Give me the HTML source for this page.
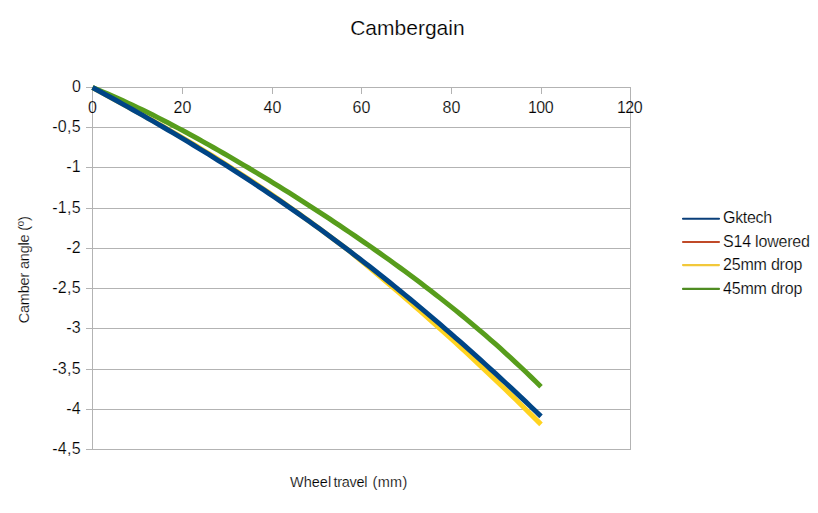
<!DOCTYPE html>
<html><head><meta charset="utf-8"><style>
html,body{margin:0;padding:0;background:#fff;}
svg{display:block;}
text{font-family:"Liberation Sans",sans-serif;fill:#000;stroke:#fff;stroke-width:0.2px;}
</style></head><body>
<svg width="818" height="513" viewBox="0 0 818 513">
<rect width="818" height="513" fill="#fff"/>
<text x="407.4" y="34.6" text-anchor="middle" font-size="21">Cambergain</text>
<g stroke="#b3b3b3" stroke-width="1" shape-rendering="crispEdges"><line x1="86" y1="87.5" x2="631" y2="87.5"/><line x1="86" y1="127.5" x2="631" y2="127.5"/><line x1="86" y1="167.5" x2="631" y2="167.5"/><line x1="86" y1="208.5" x2="631" y2="208.5"/><line x1="86" y1="248.5" x2="631" y2="248.5"/><line x1="86" y1="288.5" x2="631" y2="288.5"/><line x1="86" y1="328.5" x2="631" y2="328.5"/><line x1="86" y1="369.5" x2="631" y2="369.5"/><line x1="86" y1="409.5" x2="631" y2="409.5"/><line x1="86" y1="449.5" x2="631" y2="449.5"/><line x1="182.5" y1="87" x2="182.5" y2="94"/><line x1="272.5" y1="87" x2="272.5" y2="94"/><line x1="361.5" y1="87" x2="361.5" y2="94"/><line x1="451.5" y1="87" x2="451.5" y2="94"/><line x1="541.5" y1="87" x2="541.5" y2="94"/><line x1="92.5" y1="87" x2="92.5" y2="450"/><line x1="630.5" y1="87" x2="630.5" y2="450"/></g>
<g font-size="16"><text x="81" y="92.4" text-anchor="end" letter-spacing="0">0</text><text x="81" y="132.4" text-anchor="end" letter-spacing="0.3">-0,5</text><text x="81" y="172.4" text-anchor="end" letter-spacing="0.3">-1</text><text x="81" y="213.4" text-anchor="end" letter-spacing="0.3">-1,5</text><text x="81" y="253.4" text-anchor="end" letter-spacing="0.3">-2</text><text x="81" y="293.4" text-anchor="end" letter-spacing="0.3">-2,5</text><text x="81" y="333.4" text-anchor="end" letter-spacing="0.3">-3</text><text x="81" y="374.4" text-anchor="end" letter-spacing="0.3">-3,5</text><text x="81" y="414.4" text-anchor="end" letter-spacing="0.3">-4</text><text x="81" y="454.4" text-anchor="end" letter-spacing="0.3">-4,5</text><text x="92.5" y="112.8" text-anchor="middle" letter-spacing="0">0</text><text x="182.5" y="112.8" text-anchor="middle" letter-spacing="0">20</text><text x="272.5" y="112.8" text-anchor="middle" letter-spacing="0">40</text><text x="361.5" y="112.8" text-anchor="middle" letter-spacing="0">60</text><text x="451.5" y="112.8" text-anchor="middle" letter-spacing="0">80</text><text x="540.5" y="112.8" text-anchor="middle" letter-spacing="-0.5">100</text><text x="629.5" y="112.8" text-anchor="middle" letter-spacing="-0.5">120</text></g>
<g fill="none" stroke-width="5" stroke-linejoin="round" stroke-linecap="butt">
<path d="M92.50,87.50 L97.54,90.23 L102.58,92.96 L107.62,95.70 L112.66,98.45 L117.70,101.20 L122.74,103.97 L127.78,106.74 L132.81,109.52 L137.85,112.32 L142.89,115.12 L147.93,117.95 L152.97,120.78 L158.01,123.64 L163.05,126.51 L168.09,129.40 L173.13,132.31 L178.17,135.25 L183.21,138.20 L188.25,141.19 L193.29,144.19 L198.33,147.22 L203.37,150.28 L208.40,153.37 L213.44,156.48 L218.48,159.62 L223.52,162.80 L228.56,166.00 L233.60,169.23 L238.64,172.49 L243.68,175.78 L248.72,179.10 L253.76,182.45 L258.80,185.83 L263.84,189.24 L268.88,192.67 L273.92,196.14 L278.96,199.63 L283.99,203.15 L289.03,206.69 L294.07,210.26 L299.11,213.86 L304.15,217.48 L309.19,221.12 L314.23,224.78 L319.27,228.47 L324.31,232.18 L329.35,235.91 L334.39,239.70 L339.43,243.45 L344.47,247.24 L349.51,251.05 L354.54,255.29 L359.58,259.49 L364.62,263.68 L369.66,267.87 L374.70,272.08 L379.74,276.31 L384.78,280.56 L389.82,284.83 L394.86,289.12 L399.90,293.43 L404.94,297.77 L409.98,302.13 L415.02,306.52 L420.06,310.93 L425.10,315.37 L430.13,319.83 L435.17,324.32 L440.21,328.83 L445.25,333.37 L450.29,337.93 L455.33,342.52 L460.37,347.13 L465.41,351.77 L470.45,356.44 L475.49,361.13 L480.53,365.85 L485.57,370.59 L490.61,375.35 L495.65,380.15 L500.69,384.96 L505.72,389.81 L510.76,394.67 L515.80,399.57 L520.84,404.48 L525.88,409.42 L530.92,414.39 L535.96,419.37 L541.00,424.39" stroke="#ffd320"/>
<path d="M92.50,87.50 L97.54,89.57 L102.58,91.69 L107.62,93.85 L112.66,96.05 L117.70,98.30 L122.74,100.58 L127.78,102.91 L132.81,105.28 L137.85,107.68 L142.89,110.12 L147.93,112.59 L152.97,115.10 L158.01,117.64 L163.05,120.21 L168.09,122.81 L173.13,125.45 L178.17,128.11 L183.21,130.80 L188.25,133.52 L193.29,136.26 L198.33,139.03 L203.37,141.82 L208.40,144.64 L213.44,147.49 L218.48,150.36 L223.52,153.25 L228.56,156.16 L233.60,159.09 L238.64,162.05 L243.68,165.03 L248.72,168.02 L253.76,171.04 L258.80,174.08 L263.84,177.14 L268.88,180.22 L273.92,183.32 L278.96,186.44 L283.99,189.58 L289.03,192.73 L294.07,195.91 L299.11,199.11 L304.15,202.33 L309.19,205.56 L314.23,208.82 L319.27,212.10 L324.31,215.40 L329.35,218.71 L334.39,222.06 L339.43,225.42 L344.47,228.80 L349.51,232.21 L354.54,235.64 L359.58,239.09 L364.62,242.57 L369.66,246.07 L374.70,249.60 L379.74,253.15 L384.78,256.73 L389.82,260.34 L394.86,263.97 L399.90,267.64 L404.94,271.33 L409.98,275.06 L415.02,278.82 L420.06,282.61 L425.10,286.44 L430.13,290.30 L435.17,294.19 L440.21,298.13 L445.25,302.10 L450.29,306.11 L455.33,310.17 L460.37,314.26 L465.41,318.40 L470.45,322.59 L475.49,326.82 L480.53,331.10 L485.57,335.43 L490.61,339.81 L495.65,344.24 L500.69,348.73 L505.72,353.28 L510.76,357.88 L515.80,362.54 L520.84,367.26 L525.88,372.05 L530.92,376.90 L535.96,381.82 L541.00,386.81" stroke="#579d1c"/>
<path d="M92.50,87.50 L97.54,90.23 L102.58,92.98 L107.62,95.73 L112.66,98.50 L117.70,101.29 L122.74,104.08 L127.78,106.90 L132.81,109.72 L137.85,112.57 L142.89,115.42 L147.93,118.30 L152.97,121.19 L158.01,124.10 L163.05,127.03 L168.09,129.97 L173.13,132.94 L178.17,135.92 L183.21,138.92 L188.25,141.95 L193.29,144.99 L198.33,148.05 L203.37,151.14 L208.40,154.24 L213.44,157.37 L218.48,160.52 L223.52,163.69 L228.56,166.89 L233.60,170.11 L238.64,173.35 L243.68,176.61 L248.72,179.90 L253.76,183.22 L258.80,186.55 L263.84,189.92 L268.88,193.30 L273.92,196.71 L278.96,200.15 L283.99,203.62 L289.03,207.10 L294.07,210.62 L299.11,214.16 L304.15,217.73 L309.19,221.32 L314.23,224.94 L319.27,228.59 L324.31,232.27 L329.35,235.97 L334.39,239.70 L339.43,243.45 L344.47,247.24 L349.51,251.05 L354.54,254.89 L359.58,258.76 L364.62,262.65 L369.66,266.57 L374.70,270.53 L379.74,274.50 L384.78,278.51 L389.82,282.55 L394.86,286.61 L399.90,290.70 L404.94,294.82 L409.98,298.97 L415.02,303.14 L420.06,307.35 L425.10,311.58 L430.13,315.84 L435.17,320.12 L440.21,324.44 L445.25,328.78 L450.29,333.15 L455.33,337.55 L460.37,341.97 L465.41,346.43 L470.45,350.91 L475.49,355.41 L480.53,359.95 L485.57,364.51 L490.61,369.09 L495.65,373.71 L500.69,378.35 L505.72,383.01 L510.76,387.70 L515.80,392.42 L520.84,397.16 L525.88,401.93 L530.92,406.73 L535.96,411.54 L541.00,416.39" stroke="#004586"/>
</g>
<g font-size="16"><line x1="683" y1="218.7" x2="719" y2="218.7" stroke="#0a3f7a" stroke-width="2.1" stroke-linecap="round"/><text x="723" y="223.3" letter-spacing="-0.3">Gktech</text><line x1="683" y1="242.0" x2="719" y2="242.0" stroke="#c04a28" stroke-width="2.1" stroke-linecap="round"/><text x="723" y="246.6" letter-spacing="-0.2">S14 lowered</text><line x1="683" y1="265.1" x2="719" y2="265.1" stroke="#f2c83a" stroke-width="2.1" stroke-linecap="round"/><text x="723" y="269.7" letter-spacing="-0.2">25mm drop</text><line x1="683" y1="288.9" x2="719" y2="288.9" stroke="#4f8c22" stroke-width="2.1" stroke-linecap="round"/><text x="723" y="293.5" letter-spacing="-0.2">45mm drop</text></g>
<g font-size="14.5">
<text x="290" y="486.9">Wheel</text>
<text x="333.6" y="486.9" letter-spacing="-0.3">travel</text>
<text x="372.5" y="486.9" letter-spacing="0.3">(mm)</text>
<text transform="translate(28.9,323.3) rotate(-90)" letter-spacing="-0.2">Camber angle (º)</text>
</g>
</svg>
</body></html>
